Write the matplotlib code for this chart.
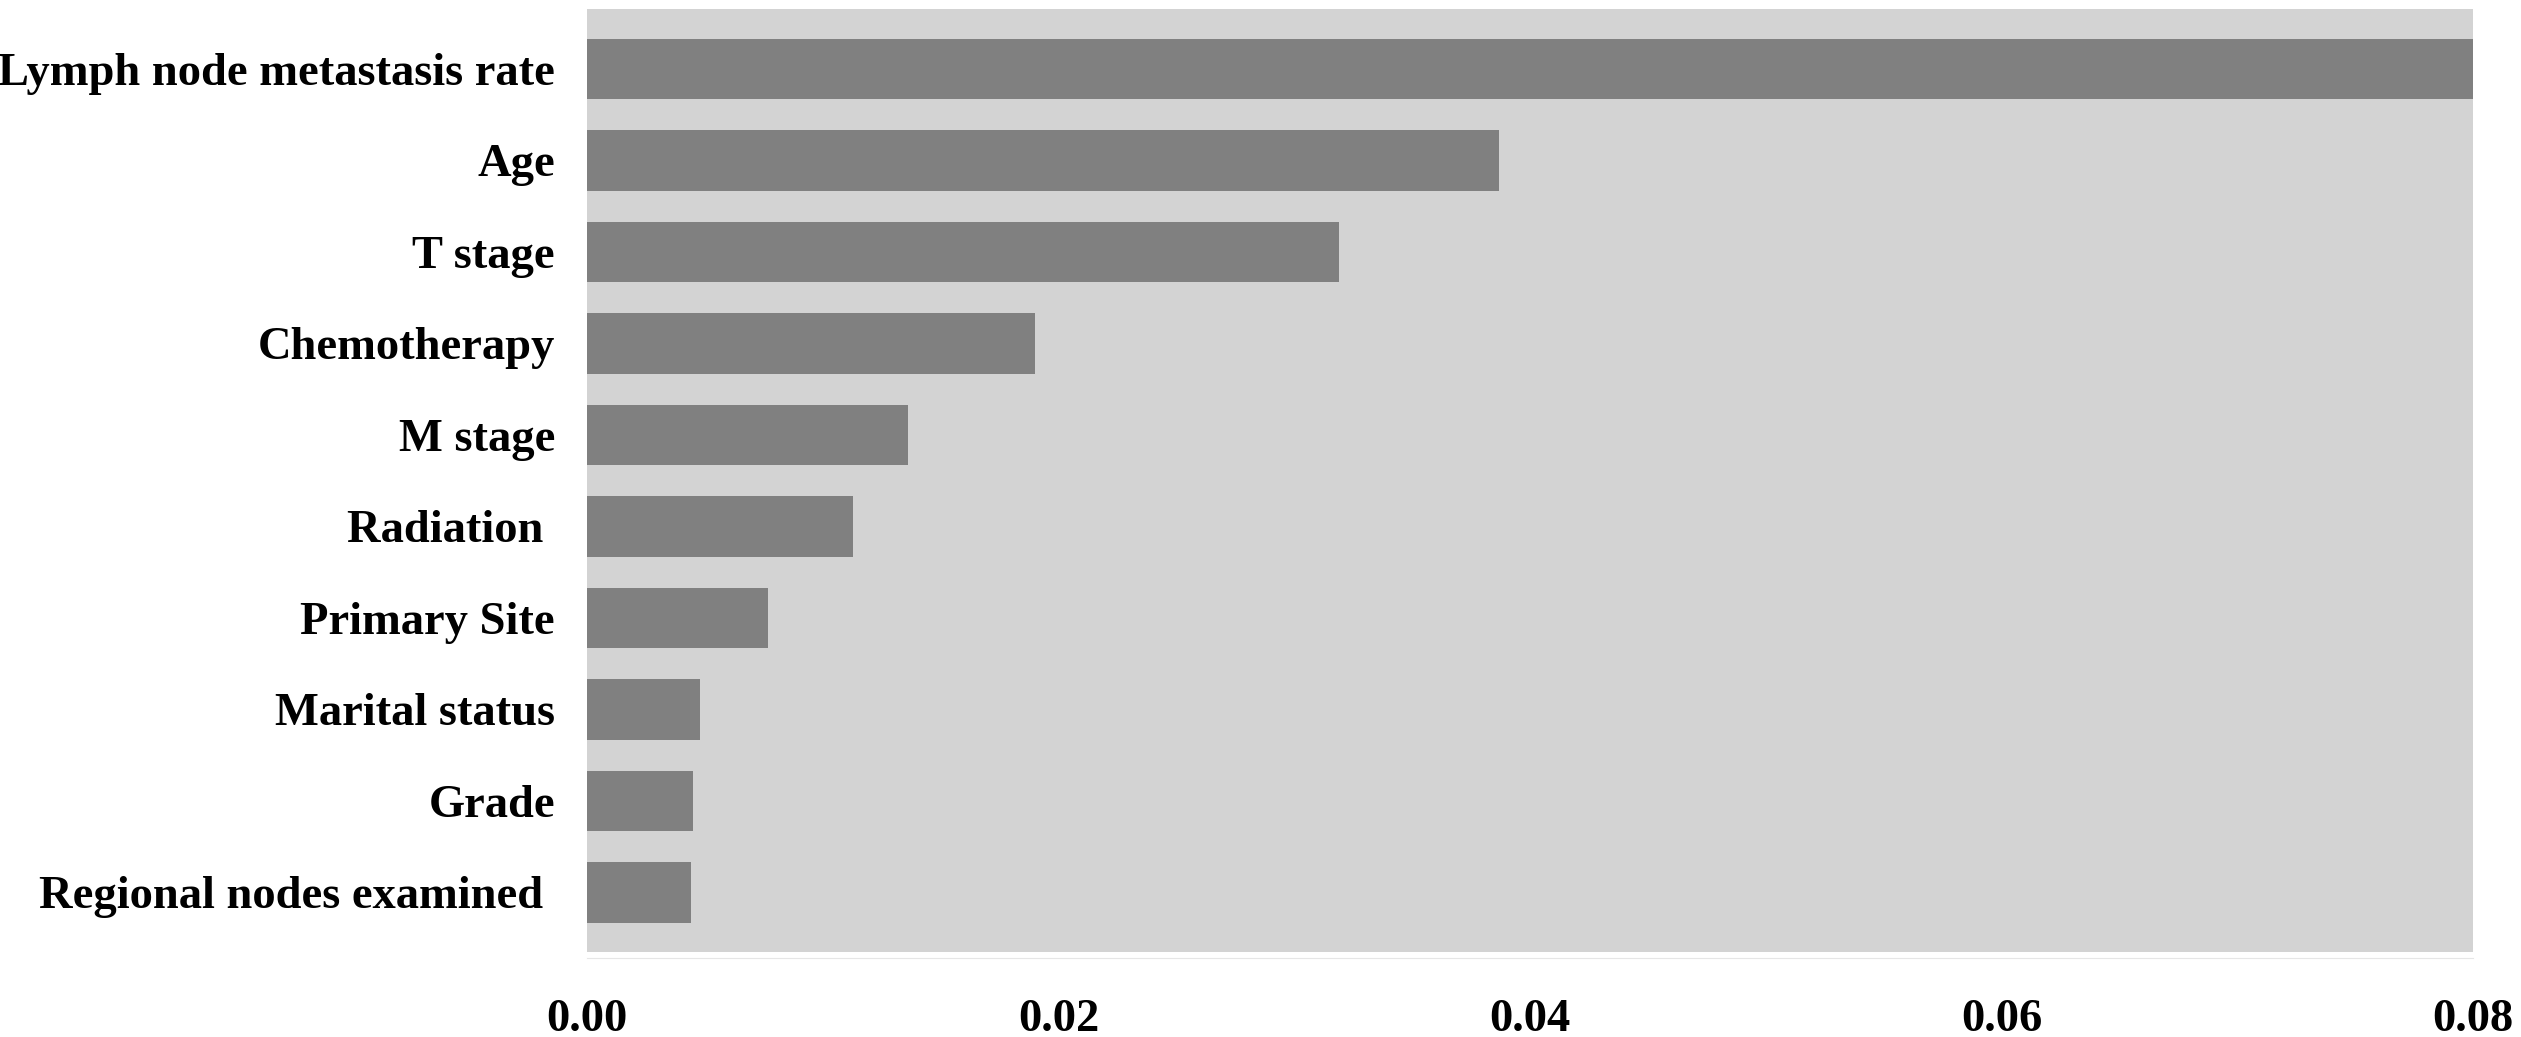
import numpy as np
import matplotlib
matplotlib.use("Agg")
import matplotlib.pyplot as plt

# variable importance (top to bottom)
features = ["Lymph node metastasis rate", "Age", "T stage", "Chemotherapy", "M stage",
            "Radiation ", "Primary Site", "Marital status", "Grade", "Regional nodes examined "]
importance = [0.0800, 0.0387, 0.0319, 0.0190, 0.0136, 0.0113, 0.0077, 0.0048, 0.0045, 0.0044]
xticks = [0.00, 0.02, 0.04, 0.06, 0.08]

plt.rcParams['font.family'] = ['Liberation Serif', 'DejaVu Serif']

fig = plt.figure(figsize=(25.21, 10.37), dpi=100)
ax = fig.add_axes([0.2328, 0.082, 0.981 - 0.2328, 0.991 - 0.082])
ax.set_facecolor('#d3d3d3')

# spine position first, it resets the ticks
for s in ['top', 'right', 'left']:
    ax.spines[s].set_visible(False)
ax.spines['bottom'].set_position(('outward', 4))
ax.spines['bottom'].set_color('#e6e6e6')

pos = np.arange(len(features))
ax.barh(pos, importance, height=0.66, color='#808080', zorder=2)

ax.set_xlim(0, 0.08)
ax.set_ylim(len(features) - 0.35, -0.65)
ax.set_yticks(pos)
ax.set_yticklabels(features, fontsize=33.5, fontweight='bold')
ax.set_xticks(xticks)
ax.set_xticklabels(["%.2f" % v for v in xticks], fontsize=33.5, fontweight='bold')
ax.tick_params(axis='y', length=0, pad=23)
ax.tick_params(axis='x', length=0, pad=30)

fig.savefig('out.png', dpi=100)
